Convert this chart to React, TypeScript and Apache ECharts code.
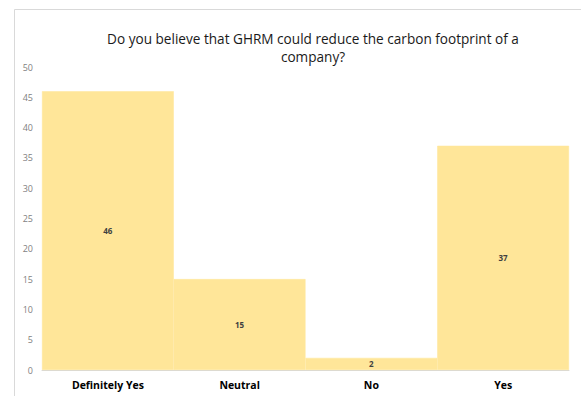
import React, { useEffect, useRef } from "react";
import * as echarts from "echarts";

const categories = ["Definitely Yes", "Neutral", "No", "Yes"];
const responses = [46, 15, 2, 37];
const titleText = "Do you believe that GHRM could reduce the carbon footprint of a\ncompany?";

export default function App() {
  const ref = useRef<HTMLDivElement>(null);

  useEffect(() => {
    if (!ref.current) return;
    const chart = echarts.init(ref.current, null, { renderer: "svg" });
    chart.setOption({
      animation: false,
      backgroundColor: "#ffffff",
      title: {
        text: titleText,
        left: 308,
        top: 24,
        textAlign: "center",
        textStyle: {
          fontFamily: "Open Sans",
          fontSize: 13.6,
          fontWeight: "normal",
          color: "#1a1a1a",
          lineHeight: 18,
        },
      },
      graphic: [
        {
          type: "polyline",
          shape: { points: [[14.5, 396], [14.5, 9.5], [581, 9.5]] },
          style: { stroke: "#d9d9d9", lineWidth: 1, fill: "none" },
          silent: true,
        },
      ],
      grid: { left: 42, right: 12, top: 67, bottom: 26 },
      xAxis: {
        type: "category",
        data: categories,
        axisTick: { show: false },
        axisLine: { show: true, lineStyle: { color: "#d9d9d9", width: 1 } },
        axisLabel: {
          color: "#000000",
          fontFamily: "Open Sans",
          fontSize: 10.5,
          fontWeight: "bold",
          margin: 9,
        },
      },
      yAxis: {
        type: "value",
        min: 0,
        max: 50,
        interval: 5,
        splitLine: { show: false },
        axisLine: { show: false },
        axisTick: { show: false },
        axisLabel: {
          color: "#7f7f7f",
          fontFamily: "Open Sans",
          fontSize: 9,
          margin: 9,
        },
      },
      series: [
        {
          type: "bar",
          data: responses,
          barCategoryGap: "0%",
          itemStyle: { color: "#FFE699", borderColor: "#FFE699", borderWidth: 0.5 },
          label: {
            show: true,
            position: "inside",
            color: "#404040",
            fontFamily: "Open Sans",
            fontSize: 8,
            fontWeight: "bold",
          },
        },
      ],
    });
    return () => chart.dispose();
  }, []);

  return (
    <div
      ref={ref}
      style={{ position: "absolute", left: 0, top: 0, width: 581, height: 396 }}
    />
  );
}
